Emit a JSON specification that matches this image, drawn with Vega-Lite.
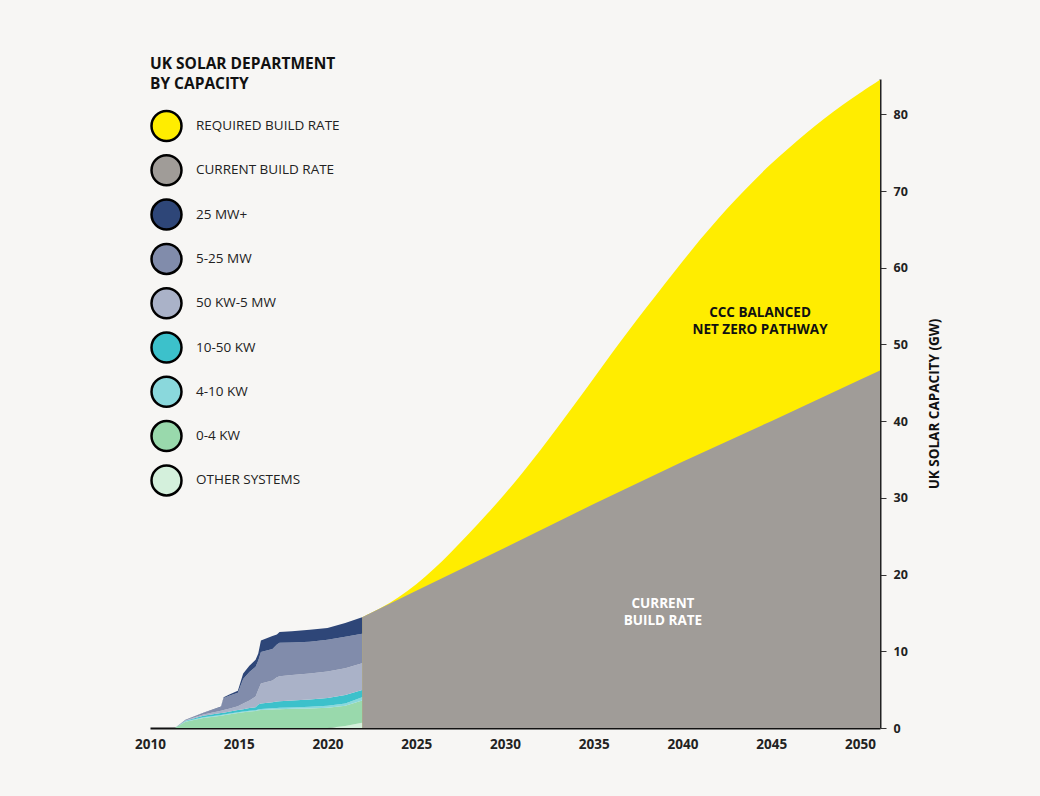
{
  "$schema": "https://vega.github.io/schema/vega-lite/v6.json",
  "width": 730,
  "height": 649,
  "autosize": {"type": "none"},
  "padding": {"left": 150, "top": 79, "right": 160, "bottom": 68},
  "background": "#f7f6f4",
  "config": {
    "view": {"stroke": null},
    "font": "Open Sans",
    "axis": {"grid": false}
  },
  "datasets": {
    "required": [
      {"year": 2021.95, "value": 14.45, "series": "REQUIRED BUILD RATE"},
      {"year": 2023, "value": 15.6, "series": "REQUIRED BUILD RATE"},
      {"year": 2024, "value": 17.0, "series": "REQUIRED BUILD RATE"},
      {"year": 2025, "value": 18.7, "series": "REQUIRED BUILD RATE"},
      {"year": 2026, "value": 20.7, "series": "REQUIRED BUILD RATE"},
      {"year": 2027, "value": 23.0, "series": "REQUIRED BUILD RATE"},
      {"year": 2028, "value": 25.4, "series": "REQUIRED BUILD RATE"},
      {"year": 2029, "value": 27.9, "series": "REQUIRED BUILD RATE"},
      {"year": 2030, "value": 30.5, "series": "REQUIRED BUILD RATE"},
      {"year": 2031, "value": 33.3, "series": "REQUIRED BUILD RATE"},
      {"year": 2032, "value": 36.2, "series": "REQUIRED BUILD RATE"},
      {"year": 2033, "value": 39.3, "series": "REQUIRED BUILD RATE"},
      {"year": 2034, "value": 42.4, "series": "REQUIRED BUILD RATE"},
      {"year": 2035, "value": 45.6, "series": "REQUIRED BUILD RATE"},
      {"year": 2036, "value": 48.8, "series": "REQUIRED BUILD RATE"},
      {"year": 2037, "value": 51.9, "series": "REQUIRED BUILD RATE"},
      {"year": 2038, "value": 54.9, "series": "REQUIRED BUILD RATE"},
      {"year": 2039, "value": 57.9, "series": "REQUIRED BUILD RATE"},
      {"year": 2040, "value": 60.8, "series": "REQUIRED BUILD RATE"},
      {"year": 2041, "value": 63.7, "series": "REQUIRED BUILD RATE"},
      {"year": 2042, "value": 66.4, "series": "REQUIRED BUILD RATE"},
      {"year": 2043, "value": 68.9, "series": "REQUIRED BUILD RATE"},
      {"year": 2044, "value": 71.3, "series": "REQUIRED BUILD RATE"},
      {"year": 2045, "value": 73.6, "series": "REQUIRED BUILD RATE"},
      {"year": 2046, "value": 75.6, "series": "REQUIRED BUILD RATE"},
      {"year": 2047, "value": 77.6, "series": "REQUIRED BUILD RATE"},
      {"year": 2048, "value": 79.5, "series": "REQUIRED BUILD RATE"},
      {"year": 2049, "value": 81.2, "series": "REQUIRED BUILD RATE"},
      {"year": 2050, "value": 82.8, "series": "REQUIRED BUILD RATE"},
      {"year": 2051.13, "value": 84.5, "series": "REQUIRED BUILD RATE"}
    ],
    "current": [
      {"year": 2021.95, "value": 14.45, "series": "CURRENT BUILD RATE"},
      {"year": 2025, "value": 17.9, "series": "CURRENT BUILD RATE"},
      {"year": 2030, "value": 23.5, "series": "CURRENT BUILD RATE"},
      {"year": 2035, "value": 29.2, "series": "CURRENT BUILD RATE"},
      {"year": 2040, "value": 34.7, "series": "CURRENT BUILD RATE"},
      {"year": 2045, "value": 40.0, "series": "CURRENT BUILD RATE"},
      {"year": 2050, "value": 45.4, "series": "CURRENT BUILD RATE"},
      {"year": 2051.13, "value": 46.6, "series": "CURRENT BUILD RATE"}
    ],
    "hist": [
      {"year": 2011.4, "series": "OTHER SYSTEMS", "rank": 1, "value": 0},
      {"year": 2011.4, "series": "0-4 KW", "rank": 2, "value": 0},
      {"year": 2011.4, "series": "4-10 KW", "rank": 3, "value": 0},
      {"year": 2011.4, "series": "10-50 KW", "rank": 4, "value": 0},
      {"year": 2011.4, "series": "50 KW-5 MW", "rank": 5, "value": 0},
      {"year": 2011.4, "series": "5-25 MW", "rank": 6, "value": 0},
      {"year": 2011.4, "series": "25 MW+", "rank": 7, "value": 0},

      {"year": 2012.0, "series": "OTHER SYSTEMS", "rank": 1, "value": 0},
      {"year": 2012.0, "series": "0-4 KW", "rank": 2, "value": 0.8},
      {"year": 2012.0, "series": "4-10 KW", "rank": 3, "value": 0.07},
      {"year": 2012.0, "series": "10-50 KW", "rank": 4, "value": 0.08},
      {"year": 2012.0, "series": "50 KW-5 MW", "rank": 5, "value": 0.05},
      {"year": 2012.0, "series": "5-25 MW", "rank": 6, "value": 0.04},
      {"year": 2012.0, "series": "25 MW+", "rank": 7, "value": 0.02},

      {"year": 2013.0, "series": "OTHER SYSTEMS", "rank": 1, "value": 0},
      {"year": 2013.0, "series": "0-4 KW", "rank": 2, "value": 1.3},
      {"year": 2013.0, "series": "4-10 KW", "rank": 3, "value": 0.1},
      {"year": 2013.0, "series": "10-50 KW", "rank": 4, "value": 0.2},
      {"year": 2013.0, "series": "50 KW-5 MW", "rank": 5, "value": 0.15},
      {"year": 2013.0, "series": "5-25 MW", "rank": 6, "value": 0.2},
      {"year": 2013.0, "series": "25 MW+", "rank": 7, "value": 0.05},

      {"year": 2014.0, "series": "OTHER SYSTEMS", "rank": 1, "value": 0},
      {"year": 2014.0, "series": "0-4 KW", "rank": 2, "value": 1.6},
      {"year": 2014.0, "series": "4-10 KW", "rank": 3, "value": 0.1},
      {"year": 2014.0, "series": "10-50 KW", "rank": 4, "value": 0.25},
      {"year": 2014.0, "series": "50 KW-5 MW", "rank": 5, "value": 0.3},
      {"year": 2014.0, "series": "5-25 MW", "rank": 6, "value": 0.5},
      {"year": 2014.0, "series": "25 MW+", "rank": 7, "value": 0.05},

      {"year": 2014.15, "series": "OTHER SYSTEMS", "rank": 1, "value": 0},
      {"year": 2014.15, "series": "0-4 KW", "rank": 2, "value": 1.65},
      {"year": 2014.15, "series": "4-10 KW", "rank": 3, "value": 0.1},
      {"year": 2014.15, "series": "10-50 KW", "rank": 4, "value": 0.25},
      {"year": 2014.15, "series": "50 KW-5 MW", "rank": 5, "value": 0.35},
      {"year": 2014.15, "series": "5-25 MW", "rank": 6, "value": 1.55},
      {"year": 2014.15, "series": "25 MW+", "rank": 7, "value": 0.1},

      {"year": 2014.5, "series": "OTHER SYSTEMS", "rank": 1, "value": 0},
      {"year": 2014.5, "series": "0-4 KW", "rank": 2, "value": 1.78},
      {"year": 2014.5, "series": "4-10 KW", "rank": 3, "value": 0.1},
      {"year": 2014.5, "series": "10-50 KW", "rank": 4, "value": 0.27},
      {"year": 2014.5, "series": "50 KW-5 MW", "rank": 5, "value": 0.4},
      {"year": 2014.5, "series": "5-25 MW", "rank": 6, "value": 1.7},
      {"year": 2014.5, "series": "25 MW+", "rank": 7, "value": 0.15},

      {"year": 2014.95, "series": "OTHER SYSTEMS", "rank": 1, "value": 0},
      {"year": 2014.95, "series": "0-4 KW", "rank": 2, "value": 1.95},
      {"year": 2014.95, "series": "4-10 KW", "rank": 3, "value": 0.1},
      {"year": 2014.95, "series": "10-50 KW", "rank": 4, "value": 0.3},
      {"year": 2014.95, "series": "50 KW-5 MW", "rank": 5, "value": 0.5},
      {"year": 2014.95, "series": "5-25 MW", "rank": 6, "value": 1.75},
      {"year": 2014.95, "series": "25 MW+", "rank": 7, "value": 0.25},

      {"year": 2015.25, "series": "OTHER SYSTEMS", "rank": 1, "value": 0},
      {"year": 2015.25, "series": "0-4 KW", "rank": 2, "value": 2.05},
      {"year": 2015.25, "series": "4-10 KW", "rank": 3, "value": 0.1},
      {"year": 2015.25, "series": "10-50 KW", "rank": 4, "value": 0.3},
      {"year": 2015.25, "series": "50 KW-5 MW", "rank": 5, "value": 0.75},
      {"year": 2015.25, "series": "5-25 MW", "rank": 6, "value": 3.2},
      {"year": 2015.25, "series": "25 MW+", "rank": 7, "value": 0.7},

      {"year": 2015.6, "series": "OTHER SYSTEMS", "rank": 1, "value": 0},
      {"year": 2015.6, "series": "0-4 KW", "rank": 2, "value": 2.15},
      {"year": 2015.6, "series": "4-10 KW", "rank": 3, "value": 0.1},
      {"year": 2015.6, "series": "10-50 KW", "rank": 4, "value": 0.35},
      {"year": 2015.6, "series": "50 KW-5 MW", "rank": 5, "value": 1.0},
      {"year": 2015.6, "series": "5-25 MW", "rank": 6, "value": 3.7},
      {"year": 2015.6, "series": "25 MW+", "rank": 7, "value": 0.8},

      {"year": 2015.95, "series": "OTHER SYSTEMS", "rank": 1, "value": 0},
      {"year": 2015.95, "series": "0-4 KW", "rank": 2, "value": 2.2},
      {"year": 2015.95, "series": "4-10 KW", "rank": 3, "value": 0.12},
      {"year": 2015.95, "series": "10-50 KW", "rank": 4, "value": 0.38},
      {"year": 2015.95, "series": "50 KW-5 MW", "rank": 5, "value": 1.4},
      {"year": 2015.95, "series": "5-25 MW", "rank": 6, "value": 3.9},
      {"year": 2015.95, "series": "25 MW+", "rank": 7, "value": 0.9},

      {"year": 2016.1, "series": "OTHER SYSTEMS", "rank": 1, "value": 0},
      {"year": 2016.1, "series": "0-4 KW", "rank": 2, "value": 2.3},
      {"year": 2016.1, "series": "4-10 KW", "rank": 3, "value": 0.12},
      {"year": 2016.1, "series": "10-50 KW", "rank": 4, "value": 0.63},
      {"year": 2016.1, "series": "50 KW-5 MW", "rank": 5, "value": 1.95},
      {"year": 2016.1, "series": "5-25 MW", "rank": 6, "value": 3.8},
      {"year": 2016.1, "series": "25 MW+", "rank": 7, "value": 0.9},

      {"year": 2016.25, "series": "OTHER SYSTEMS", "rank": 1, "value": 0},
      {"year": 2016.25, "series": "0-4 KW", "rank": 2, "value": 2.35},
      {"year": 2016.25, "series": "4-10 KW", "rank": 3, "value": 0.13},
      {"year": 2016.25, "series": "10-50 KW", "rank": 4, "value": 0.72},
      {"year": 2016.25, "series": "50 KW-5 MW", "rank": 5, "value": 2.6},
      {"year": 2016.25, "series": "5-25 MW", "rank": 6, "value": 4.1},
      {"year": 2016.25, "series": "25 MW+", "rank": 7, "value": 1.5},

      {"year": 2016.9, "series": "OTHER SYSTEMS", "rank": 1, "value": 0},
      {"year": 2016.9, "series": "0-4 KW", "rank": 2, "value": 2.42},
      {"year": 2016.9, "series": "4-10 KW", "rank": 3, "value": 0.16},
      {"year": 2016.9, "series": "10-50 KW", "rank": 4, "value": 0.77},
      {"year": 2016.9, "series": "50 KW-5 MW", "rank": 5, "value": 2.85},
      {"year": 2016.9, "series": "5-25 MW", "rank": 6, "value": 4.1},
      {"year": 2016.9, "series": "25 MW+", "rank": 7, "value": 1.7},

      {"year": 2017.15, "series": "OTHER SYSTEMS", "rank": 1, "value": 0},
      {"year": 2017.15, "series": "0-4 KW", "rank": 2, "value": 2.45},
      {"year": 2017.15, "series": "4-10 KW", "rank": 3, "value": 0.17},
      {"year": 2017.15, "series": "10-50 KW", "rank": 4, "value": 0.83},
      {"year": 2017.15, "series": "50 KW-5 MW", "rank": 5, "value": 3.15},
      {"year": 2017.15, "series": "5-25 MW", "rank": 6, "value": 4.3},
      {"year": 2017.15, "series": "25 MW+", "rank": 7, "value": 1.3},

      {"year": 2017.3, "series": "OTHER SYSTEMS", "rank": 1, "value": 0},
      {"year": 2017.3, "series": "0-4 KW", "rank": 2, "value": 2.46},
      {"year": 2017.3, "series": "4-10 KW", "rank": 3, "value": 0.17},
      {"year": 2017.3, "series": "10-50 KW", "rank": 4, "value": 0.87},
      {"year": 2017.3, "series": "50 KW-5 MW", "rank": 5, "value": 3.25},
      {"year": 2017.3, "series": "5-25 MW", "rank": 6, "value": 4.35},
      {"year": 2017.3, "series": "25 MW+", "rank": 7, "value": 1.4},

      {"year": 2018.0, "series": "OTHER SYSTEMS", "rank": 1, "value": 0},
      {"year": 2018.0, "series": "0-4 KW", "rank": 2, "value": 2.5},
      {"year": 2018.0, "series": "4-10 KW", "rank": 3, "value": 0.18},
      {"year": 2018.0, "series": "10-50 KW", "rank": 4, "value": 0.9},
      {"year": 2018.0, "series": "50 KW-5 MW", "rank": 5, "value": 3.32},
      {"year": 2018.0, "series": "5-25 MW", "rank": 6, "value": 4.25},
      {"year": 2018.0, "series": "25 MW+", "rank": 7, "value": 1.45},

      {"year": 2019.0, "series": "OTHER SYSTEMS", "rank": 1, "value": 0},
      {"year": 2019.0, "series": "0-4 KW", "rank": 2, "value": 2.55},
      {"year": 2019.0, "series": "4-10 KW", "rank": 3, "value": 0.21},
      {"year": 2019.0, "series": "10-50 KW", "rank": 4, "value": 0.96},
      {"year": 2019.0, "series": "50 KW-5 MW", "rank": 5, "value": 3.38},
      {"year": 2019.0, "series": "5-25 MW", "rank": 6, "value": 4.15},
      {"year": 2019.0, "series": "25 MW+", "rank": 7, "value": 1.55},

      {"year": 2020.0, "series": "OTHER SYSTEMS", "rank": 1, "value": 0},
      {"year": 2020.0, "series": "0-4 KW", "rank": 2, "value": 2.65},
      {"year": 2020.0, "series": "4-10 KW", "rank": 3, "value": 0.25},
      {"year": 2020.0, "series": "10-50 KW", "rank": 4, "value": 1.0},
      {"year": 2020.0, "series": "50 KW-5 MW", "rank": 5, "value": 3.45},
      {"year": 2020.0, "series": "5-25 MW", "rank": 6, "value": 4.15},
      {"year": 2020.0, "series": "25 MW+", "rank": 7, "value": 1.55},

      {"year": 2021.0, "series": "OTHER SYSTEMS", "rank": 1, "value": 0.26},
      {"year": 2021.0, "series": "0-4 KW", "rank": 2, "value": 2.64},
      {"year": 2021.0, "series": "4-10 KW", "rank": 3, "value": 0.3},
      {"year": 2021.0, "series": "10-50 KW", "rank": 4, "value": 1.1},
      {"year": 2021.0, "series": "50 KW-5 MW", "rank": 5, "value": 3.5},
      {"year": 2021.0, "series": "5-25 MW", "rank": 6, "value": 4.1},
      {"year": 2021.0, "series": "25 MW+", "rank": 7, "value": 1.8},

      {"year": 2021.95, "series": "OTHER SYSTEMS", "rank": 1, "value": 0.7},
      {"year": 2021.95, "series": "0-4 KW", "rank": 2, "value": 2.9},
      {"year": 2021.95, "series": "4-10 KW", "rank": 3, "value": 0.4},
      {"year": 2021.95, "series": "10-50 KW", "rank": 4, "value": 0.95},
      {"year": 2021.95, "series": "50 KW-5 MW", "rank": 5, "value": 3.5},
      {"year": 2021.95, "series": "5-25 MW", "rank": 6, "value": 3.85},
      {"year": 2021.95, "series": "25 MW+", "rank": 7, "value": 2.15}
    ],
    "notes": [
      {"year": 2044.37, "value": 54.1, "label": "CCC BALANCED\nNET ZERO PATHWAY", "kind": "dark"},
      {"year": 2038.9, "value": 16.2, "label": "CURRENT\nBUILD RATE", "kind": "light"}
    ]
  },
  "encoding": {
    "x": {
      "field": "year",
      "type": "quantitative",
      "scale": {"domain": [2010, 2051.13], "nice": false, "zero": false},
      "axis": {
        "values": [2010, 2015, 2020, 2025, 2030, 2035, 2040, 2045, 2050],
        "format": "d",
        "title": null,
        "tickSize": 0,
        "labelPadding": 9,
        "labelFlush": false,
        "labelOverlap": false,
        "labelFont": "Open Sans",
        "labelFontWeight": "bold",
        "labelFontSize": 13.5,
        "labelColor": "#222222",
        "domainColor": "#111111",
        "domainWidth": 2
      }
    },
    "y": {
      "field": "value",
      "type": "quantitative",
      "scale": {"domain": [0, 84.6], "nice": false},
      "axis": {
        "orient": "right",
        "values": [0, 10, 20, 30, 40, 50, 60, 70, 80],
        "title": "UK SOLAR CAPACITY (GW)",
        "titleAngle": 270,
        "titleFont": "Open Sans",
        "titleFontWeight": "bold",
        "titleFontSize": 13.5,
        "titleColor": "#111111",
        "titlePadding": 34,
        "tickSize": 6,
        "tickColor": "#333333",
        "tickWidth": 1,
        "labelPadding": 7,
        "labelFont": "Open Sans",
        "labelFontWeight": "bold",
        "labelFontSize": 12.5,
        "labelColor": "#222222",
        "domainColor": "#222222",
        "domainWidth": 2
      }
    }
  },
  "layer": [
    {
      "data": {"name": "required"},
      "mark": {"type": "area", "interpolate": "basis", "opacity": 1},
      "encoding": {
        "y": {"field": "value", "type": "quantitative", "stack": null},
        "color": {"field": "series", "type": "nominal"}
      }
    },
    {
      "data": {"name": "current"},
      "mark": {"type": "area", "interpolate": "linear", "opacity": 1},
      "encoding": {
        "y": {"field": "value", "type": "quantitative", "stack": null},
        "color": {"field": "series", "type": "nominal"}
      }
    },
    {
      "data": {"name": "hist"},
      "mark": {"type": "area", "interpolate": "linear", "opacity": 1},
      "encoding": {
        "y": {"field": "value", "type": "quantitative", "stack": "zero"},
        "order": {"field": "rank", "type": "quantitative", "sort": "ascending"},
        "color": {
          "field": "series",
          "type": "nominal",
          "scale": {
            "domain": ["REQUIRED BUILD RATE", "CURRENT BUILD RATE", "25 MW+", "5-25 MW", "50 KW-5 MW", "10-50 KW", "4-10 KW", "0-4 KW", "OTHER SYSTEMS"],
            "range": ["#ffed00", "#a09c98", "#2e4678", "#818cab", "#aab2c8", "#3cc1cb", "#8ad8dc", "#99d9ac", "#d4f0dc"]
          },
          "legend": {
            "orient": "none",
            "legendX": 0,
            "legendY": -22,
            "direction": "vertical",
            "title": ["UK SOLAR DEPARTMENT", "BY CAPACITY"],
            "titleFont": "Open Sans",
            "titleFontSize": 15.5,
            "titleFontWeight": "bold",
            "titleColor": "#111111",
            "titleLineHeight": 20,
            "titlePadding": 17,
            "titleLimit": 500,
            "symbolType": "circle",
            "symbolSize": 900,
            "symbolStrokeColor": "#000000",
            "symbolStrokeWidth": 2.5,
            "symbolOpacity": 1,
            "rowPadding": 3.3,
            "labelFont": "Open Sans",
            "labelFontSize": 13.5,
            "labelColor": "#222222",
            "labelOffset": 13,
            "labelLimit": 400,
            "padding": 0,
            "encode": {
              "symbols": {
                "update": {
                  "stroke": {"value": "#000000"},
                  "strokeWidth": {"value": 2.5},
                  "opacity": {"value": 1}
                }
              }
            }
          }
        }
      }
    },
    {
      "data": {"name": "notes"},
      "transform": [{"filter": "datum.kind === 'dark'"}],
      "mark": {"type": "text", "align": "center", "baseline": "middle", "lineBreak": "\n", "lineHeight": 17, "font": "Open Sans", "fontWeight": "bold", "fontSize": 13.5, "color": "#111111"},
      "encoding": {
        "y": {"field": "value", "type": "quantitative", "stack": null},
        "text": {"field": "label"}
      }
    },
    {
      "data": {"name": "notes"},
      "transform": [{"filter": "datum.kind === 'light'"}],
      "mark": {"type": "text", "align": "center", "baseline": "middle", "lineBreak": "\n", "lineHeight": 17, "font": "Open Sans", "fontWeight": "bold", "fontSize": 13.5, "color": "#ffffff"},
      "encoding": {
        "y": {"field": "value", "type": "quantitative", "stack": null},
        "text": {"field": "label"}
      }
    }
  ]
}
